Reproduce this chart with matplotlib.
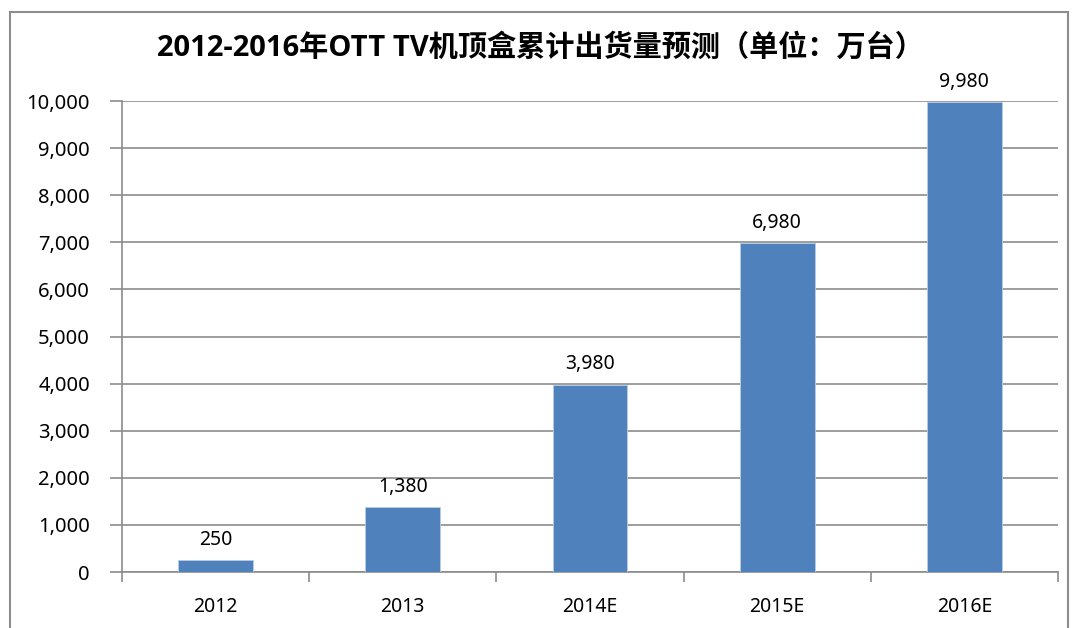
import matplotlib
matplotlib.use("Agg")
import matplotlib.pyplot as plt
from matplotlib.patches import Rectangle

plt.rcParams['font.family'] = ['Open Sans', 'Noto Sans CJK SC', 'DejaVu Sans']

categories = ["2012", "2013", "2014E", "2015E", "2016E"]
values = [250, 1380, 3980, 6980, 9980]
yticks = [0, 1000, 2000, 3000, 4000, 5000, 6000, 7000, 8000, 9000, 10000]
title = "2012-2016年OTT TV机顶盒累计出货量预测（单位：万台）"

fig = plt.figure(figsize=(10.76, 6.28), dpi=100)
fig.patches.append(Rectangle((10/1076, -0.02), (1068-10)/1076, 1.02 - 12/628, transform=fig.transFigure,
                             fill=False, edgecolor='#8c8c8c', linewidth=1.5))
ax = fig.add_axes([122/1076, 1 - 572/628, (1058-122)/1076, (572-101)/628])

lab_font = ['Noto Sans', 'DejaVu Sans']
x = list(range(len(categories)))
ax.bar(x, values, width=0.4, color='#4f81bd', edgecolor='#b9cde5', linewidth=0.6, zorder=3)
for xi, v in zip(x, values):
    ax.text(xi, v + 220, f"{v:,}", ha='center', va='bottom', fontsize=14, color='black',
            family=lab_font)

ax.set_xlim(-0.5, len(categories) - 0.5)
ax.set_ylim(0, 10000)
ax.set_yticks(yticks)
ax.set_yticklabels([f"{t:,}" for t in yticks], fontsize=14.5, family=lab_font)
ax.set_xticks(x)
ax.set_xticklabels(categories, fontsize=14, family=lab_font)
ax.set_xticks([i - 0.5 for i in range(len(categories) + 1)], minor=True)
ax.tick_params(axis='x', which='major', length=0, pad=18)
ax.tick_params(axis='x', which='minor', length=7, color='#8c8c8c', width=1.2, direction='out')
ax.tick_params(axis='y', length=9, color='#8c8c8c', width=1.2, pad=14)
ax.yaxis.grid(True, color='#8c8c8c', linewidth=1.2, zorder=0)
ax.set_axisbelow(True)
for s in ['top', 'right']:
    ax.spines[s].set_visible(False)
for s in ['left', 'bottom']:
    ax.spines[s].set_color('#8c8c8c')
    ax.spines[s].set_linewidth(1.2)

fig.text(540/1076, 1 - 48/628, title, ha='center', va='center', fontsize=21, fontweight='bold',
         family=['Open Sans', 'Noto Sans CJK SC', 'DejaVu Sans'])

fig.savefig("out.png", dpi=100)
